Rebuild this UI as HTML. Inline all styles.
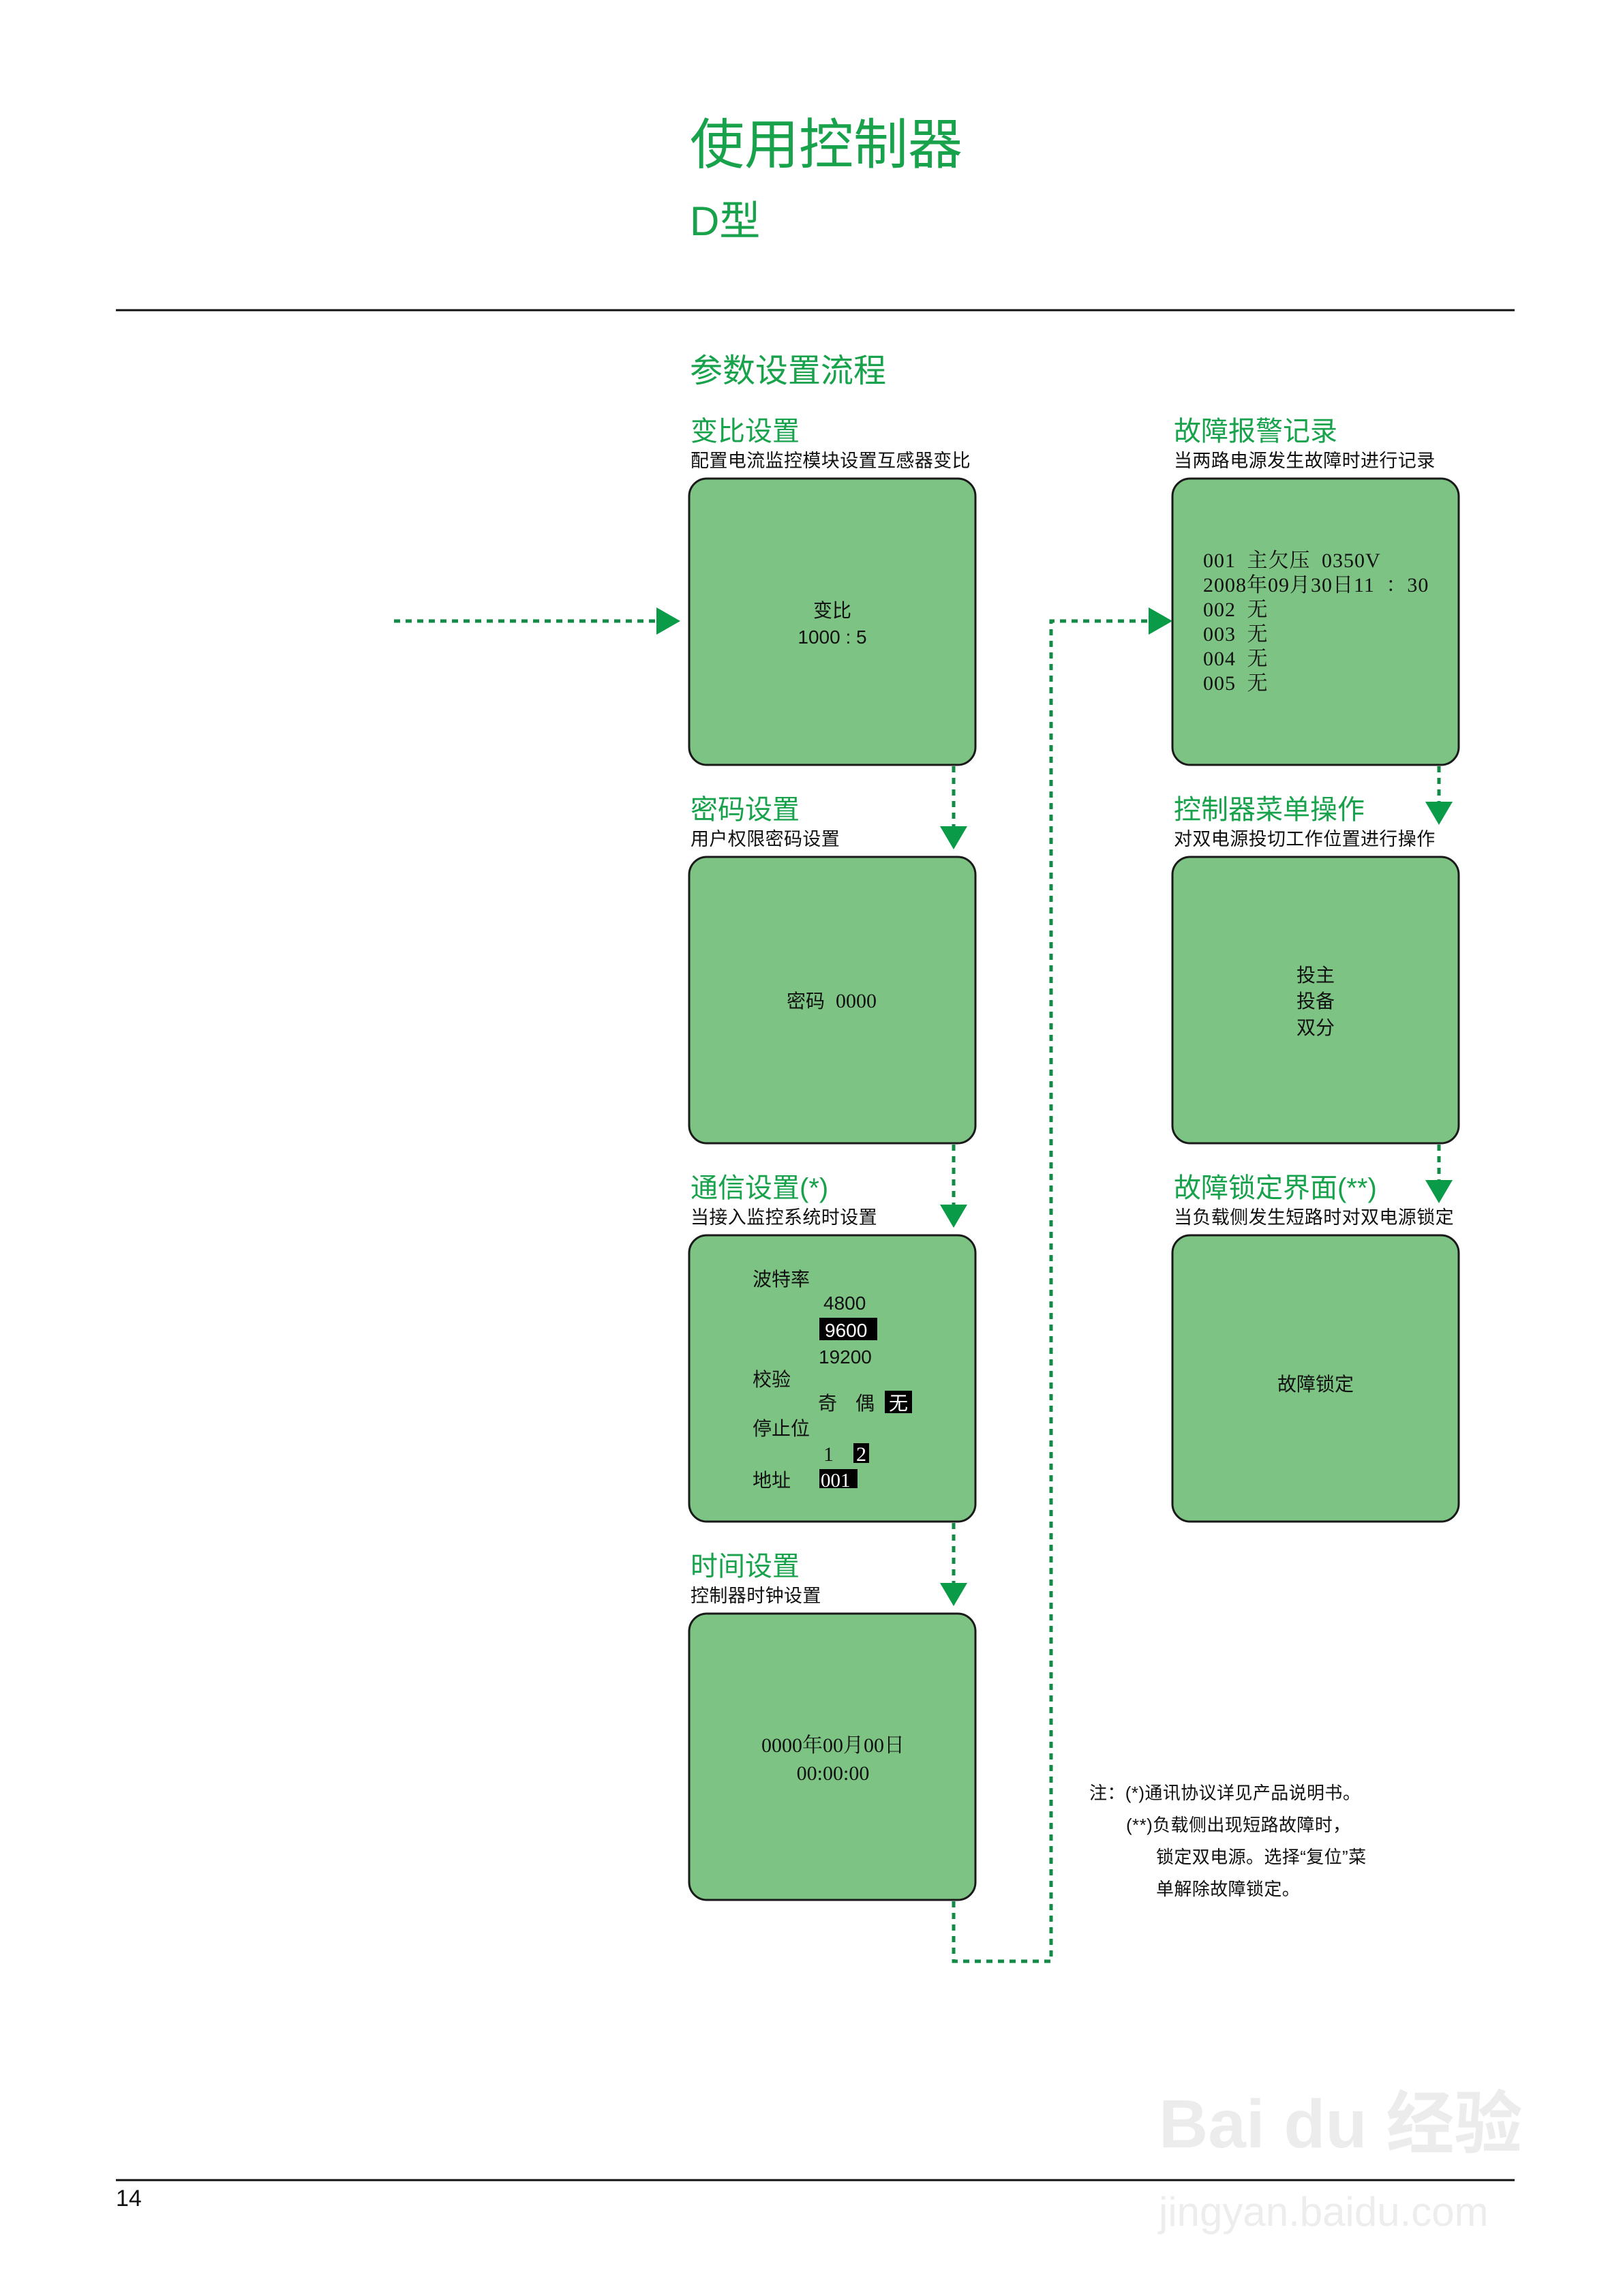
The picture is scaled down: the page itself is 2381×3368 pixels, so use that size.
<!DOCTYPE html>
<html><head><meta charset="utf-8"><style>
html,body{margin:0;padding:0;background:#fff;}
svg{display:block;}
text{font-family:"Liberation Sans","Noto Sans CJK SC",sans-serif;}
.g{fill:#17a24b;}
.h{fill:#17a24b;font-size:40px;}
.s{fill:#111;font-size:27px;letter-spacing:0.4px;}
.b{fill:#111;font-size:28px;}
text.m{fill:#111;font-size:30px;font-family:"Liberation Serif","Noto Serif CJK SC",serif;}
text.r{letter-spacing:1px;word-spacing:8px;}
.box{fill:#7dc383;stroke:#1a1a1a;stroke-width:3;}
.d{fill:none;stroke:#138a45;stroke-width:5;stroke-dasharray:9 8;}
.a{fill:#0a9b48;}
</style></head><body>
<svg width="2381" height="3368" viewBox="0 0 2381 3368" xmlns="http://www.w3.org/2000/svg">
<text x="1012" y="240" class="g" style="font-size:80px">使用控制器</text>
<text x="1012" y="345" class="g" style="font-size:60px">D型</text>
<line x1="170" y1="455" x2="2222" y2="455" stroke="#111" stroke-width="3"/>
<text x="1012" y="560" class="g" style="font-size:48px">参数设置流程</text>

<text x="1013" y="646" class="h">变比设置</text>
<text x="1013" y="685" class="s">配置电流监控模块设置互感器变比</text>
<rect x="1011" y="702" width="420" height="420" rx="26" class="box"/>
<text x="1221" y="905" class="b" text-anchor="middle">变比</text>
<text x="1221" y="944" class="b" text-anchor="middle">1000 : 5</text>

<text x="1013" y="1201" class="h">密码设置</text>
<text x="1013" y="1240" class="s">用户权限密码设置</text>
<rect x="1011" y="1257" width="420" height="420" rx="26" class="box"/>
<text x="1154" y="1478" class="b">密码</text>
<text x="1226" y="1478" class="m">0000</text>

<text x="1013" y="1756" class="h">通信设置(*)</text>
<text x="1013" y="1795" class="s">当接入监控系统时设置</text>
<rect x="1011" y="1812" width="420" height="420" rx="26" class="box"/>
<text x="1104" y="1886" class="b">波特率</text>
<text x="1208" y="1921" class="b">4800</text>
<rect x="1202" y="1933" width="85" height="33" fill="#000"/>
<text x="1210" y="1961" class="b" style="fill:#fff">9600</text>
<text x="1201" y="2000" class="b">19200</text>
<text x="1104" y="2033" class="b">校验</text>
<text x="1200" y="2068" class="b">奇</text>
<text x="1255" y="2068" class="b">偶</text>
<rect x="1298" y="2040" width="40" height="33" fill="#000"/>
<text x="1304" y="2068" class="b" style="fill:#fff">无</text>
<text x="1104" y="2105" class="b">停止位</text>
<text x="1208" y="2143" class="m">1</text>
<rect x="1252" y="2117" width="23" height="29" fill="#000"/>
<text x="1256" y="2143" class="m" style="fill:#fff">2</text>
<text x="1104" y="2181" class="b">地址</text>
<rect x="1202" y="2155" width="56" height="28" fill="#000"/>
<text x="1204" y="2181" class="m" style="fill:#fff;font-size:29px">001</text>

<text x="1013" y="2311" class="h">时间设置</text>
<text x="1013" y="2350" class="s">控制器时钟设置</text>
<rect x="1011" y="2367" width="420" height="420" rx="26" class="box"/>
<text x="1222" y="2570" class="m" text-anchor="middle">0000年00月00日</text>
<text x="1222" y="2611" class="m" text-anchor="middle">00:00:00</text>

<text x="1722" y="646" class="h">故障报警记录</text>
<text x="1722" y="685" class="s">当两路电源发生故障时进行记录</text>
<rect x="1720" y="702" width="420" height="420" rx="26" class="box"/>
<text x="1765" y="832" class="m r">001 主欠压 0350V</text>
<text x="1765" y="868" class="m r">2008年09月30日11 ：30</text>
<text x="1765" y="904" class="m r">002 无</text>
<text x="1765" y="940" class="m r">003 无</text>
<text x="1765" y="976" class="m r">004 无</text>
<text x="1765" y="1012" class="m r">005 无</text>

<text x="1722" y="1201" class="h">控制器菜单操作</text>
<text x="1722" y="1240" class="s">对双电源投切工作位置进行操作</text>
<rect x="1720" y="1257" width="420" height="420" rx="26" class="box"/>
<text x="1930" y="1440" class="b" text-anchor="middle">投主</text>
<text x="1930" y="1478" class="b" text-anchor="middle">投备</text>
<text x="1930" y="1517" class="b" text-anchor="middle">双分</text>

<text x="1722" y="1756" class="h">故障锁定界面(**)</text>
<text x="1722" y="1795" class="s">当负载侧发生短路时对双电源锁定</text>
<rect x="1720" y="1812" width="420" height="420" rx="26" class="box"/>
<text x="1930" y="2040" class="b" text-anchor="middle">故障锁定</text>

<line x1="578" y1="911" x2="965" y2="911" class="d"/>
<polygon points="963,891 998,911 963,931" class="a"/>
<line x1="1399" y1="1124" x2="1399" y2="1214" class="d"/>
<polygon points="1379,1212 1419,1212 1399,1246" class="a"/>
<line x1="1399" y1="1679" x2="1399" y2="1769" class="d"/>
<polygon points="1379,1767 1419,1767 1399,1801" class="a"/>
<line x1="1399" y1="2234" x2="1399" y2="2324" class="d"/>
<polygon points="1379,2322 1419,2322 1399,2356" class="a"/>
<polyline points="1399,2789 1399,2877 1542,2877 1542,911 1685,911" class="d"/>
<polygon points="1685,891 1720,911 1685,931" class="a"/>
<line x1="2111" y1="1124" x2="2111" y2="1178" class="d"/>
<polygon points="2091,1176 2131,1176 2111,1210" class="a"/>
<line x1="2111" y1="1679" x2="2111" y2="1733" class="d"/>
<polygon points="2091,1731 2131,1731 2111,1765" class="a"/>

<text x="1598" y="2639" class="s" style="font-size:26px">注：(*)通讯协议详见产品说明书。</text>
<text x="1652" y="2686" class="s" style="font-size:26px">(**)负载侧出现短路故障时，</text>
<text x="1696" y="2733" class="s" style="font-size:26px">锁定双电源。选择“复位”菜</text>
<text x="1696" y="2780" class="s" style="font-size:26px">单解除故障锁定。</text>

<text x="1700" y="3150" style="font-size:100px;fill:#ececec;font-weight:bold">Bai du 经验</text>
<text x="1700" y="3265" style="font-size:60px;fill:#ededed">jingyan.baidu.com</text>

<line x1="170" y1="3198" x2="2222" y2="3198" stroke="#111" stroke-width="3"/>
<text x="170" y="3236" style="font-size:34px;fill:#111">14</text>
</svg>
</body></html>
